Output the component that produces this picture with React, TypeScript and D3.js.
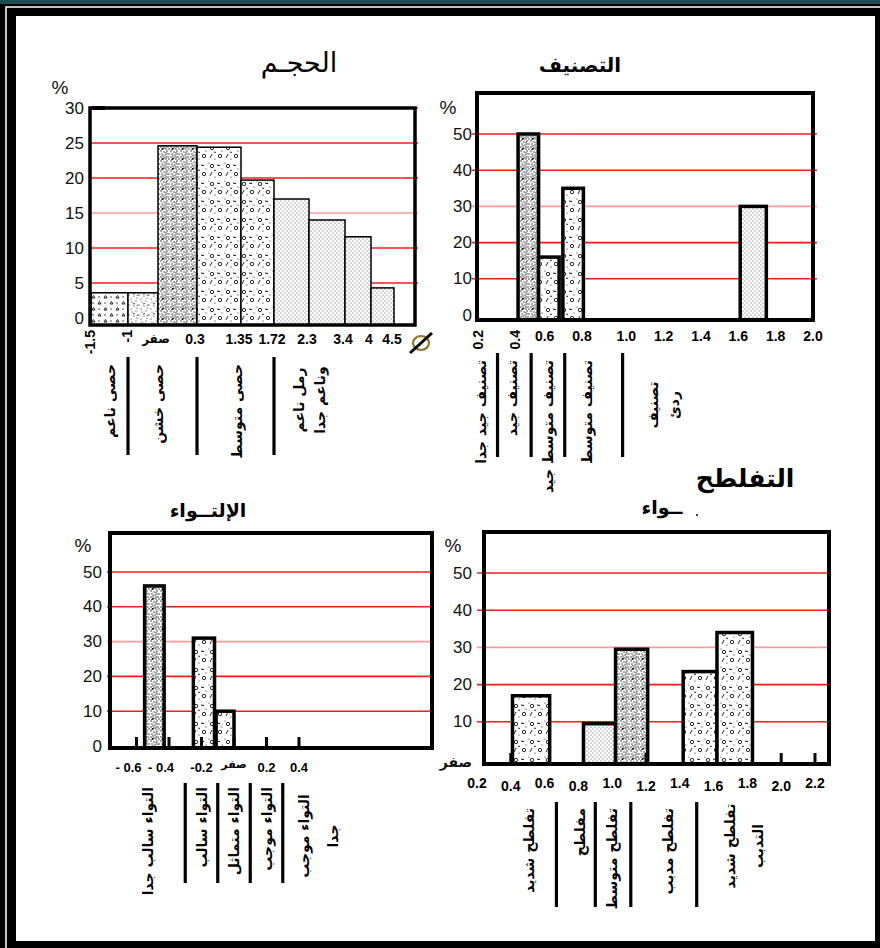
import React from 'react';
import * as d3 from 'd3';

// ---------- الحجم : grain size (phi) ----------
const sizeBreaks = [-1.5, -1, 0, 0.3, 1.35, 1.72, 2.3, 3.4, 4, 4.5];
const sizeTickLabels = ['-1.5', '-1', 'صفر', '0.3', '1.35', '1.72', '2.3', '3.4', '4', '4.5'];
const sizeValues = [3.6, 3.6, 24.6, 24.4, 19.7, 17, 14, 11.6, 4.3];
const sizeYTicks = [0, 5, 10, 15, 20, 25, 30];
const sizeClasses = [['حصى ناعم'], ['حصى خشن'], ['حصى متوسط'], ['رمل ناعم', 'وناعم جدا']];
const sizeClassBounds = [-1, 0.3, 1.72];
const sizeClassAt = [-1.25, 0, 1.25, 2.3];

// ---------- التصنيف : sorting ----------
const sortTicks = [0.2, 0.4, 0.6, 0.8, 1.0, 1.2, 1.4, 1.6, 1.8, 2.0];
const sortBars = [[0.42, 0.53], [0.53, 0.64], [0.66, 0.77], [1.61, 1.75]];
const sortValues = [50, 16, 35, 30];
const sortYTicks = [0, 10, 20, 30, 40, 50];
const sortClasses = [['تصنيف جيد جدا'], ['تصنيف جيد'], ['تصنيف متوسط جيد'], ['تصنيف متوسط'], ['تصنيف', 'ردئ']];
const sortClassBounds = [0.31, 0.49, 0.67, 0.98];
const sortClassAt = [0.22, 0.39, 0.58, 0.79, 1.2];

// ---------- الإلتواء : skewness ----------
const skewTicks = [-0.6, -0.4, -0.2, 0, 0.2, 0.4];
const skewTickLabels = ['- 0.6', '- 0.4', '-0.2', 'صفر', '0.2', '0.4'];
const skewBars = [[-0.55, -0.43], [-0.25, -0.12], [-0.11, 0]];
const skewValues = [46, 31, 10];
const skewYTicks = [0, 10, 20, 30, 40, 50];
const skewClasses = [['التواء سالب جدا'], ['التواء سالب'], ['التواء متماثل'], ['التواء موجب'], ['التواء موجب', 'جدا']];
const skewClassBounds = [-0.3, -0.1, 0.1, 0.3];
const skewClassAt = [-0.53, -0.2, 0, 0.2, 0.52];

// ---------- التفلطح : kurtosis ----------
const kurtTicks = [0.2, 0.4, 0.6, 0.8, 1.0, 1.2, 1.4, 1.6, 1.8, 2.0, 2.2];
const kurtBars = [[0.41, 0.63], [0.83, 1.02], [1.02, 1.21], [1.42, 1.62], [1.62, 1.83]];
const kurtValues = [17, 9.5, 29.5, 23.5, 34];
const kurtYTicks = [0, 10, 20, 30, 40, 50];
const kurtYTickLabels = ['صفر', '10', '20', '30', '40', '50'];
const kurtStubs = [0.4, 1.2, 2.0, 2.2];
const kurtClasses = [['تفلطح شديد'], ['مفلطح'], ['تفلطح متوسط'], ['تفلطح مدبب'], ['تفلطح شديد', 'التدبب']];
const kurtClassBounds = [0.67, 0.9, 1.11, 1.5];
const kurtClassAt = [0.51, 0.81, 1.0, 1.33, 1.78];

// bar textures
const sizeFills = ['tri', 'mix', 'dense', 'circ', 'circ', 'fine', 'fine', 'fine', 'fine'];
const sortFills = ['dense', 'circ', 'circ', 'fine'];
const skewFills = ['dense', 'circ', 'circ'];
const kurtFills = ['circ', 'fine', 'dense', 'circ', 'circ'];

const AR = '"DejaVu Sans", sans-serif';
const NUM = '"Liberation Sans", Arial, sans-serif';
const RED = '#ff1a1a';
const PINK = '#ff9a9a';

function Patterns() {
  const denseDots = [[1, 1], [4, 2], [7, 1], [9, 4], [2, 4], [5, 5], [8, 7], [1, 7], [4, 8], [6, 9], [3, 6], [7, 4], [9, 9], [6, 7], [2, 9.5]];
  const mixDots = [[2, 2], [6, 1], [9, 5], [4, 6], [1, 9], [7, 8]];
  return (
    <defs>
      <pattern id="p-dense" width="10" height="10" patternUnits="userSpaceOnUse">
        <rect width="10" height="10" fill="#fff" />
        {denseDots.map(([a, b], i) => <circle key={i} cx={a} cy={b} r={0.7} fill="#111" />)}
        <line x1="5" y1="3" x2="7" y2="2" stroke="#333" strokeWidth="0.7" />
        <rect x="2" y="8" width="1.6" height="1.6" fill="#000" />
      </pattern>
      <pattern id="p-circ" width="16" height="18" patternUnits="userSpaceOnUse">
        <rect width="16" height="18" fill="#fff" />
        <circle cx="4" cy="4" r="1.7" fill="none" stroke="#111" strokeWidth="0.9" />
        <circle cx="12" cy="12" r="1.7" fill="none" stroke="#111" strokeWidth="0.9" />
        <line x1="9" y1="3" x2="12" y2="3.6" stroke="#111" strokeWidth="1" />
        <line x1="2" y1="14" x2="4" y2="10" stroke="#111" strokeWidth="0.9" />
        <line x1="6" y1="8" x2="8" y2="8.5" stroke="#111" strokeWidth="0.9" />
        <circle cx="14" cy="7" r="0.6" fill="#111" />
        <circle cx="7" cy="15" r="0.6" fill="#111" />
        <circle cx="1" cy="1" r="0.6" fill="#111" />
      </pattern>
      <pattern id="p-fine" width="4" height="4" patternUnits="userSpaceOnUse">
        <rect width="4" height="4" fill="#fff" />
        <circle cx="1" cy="1" r="0.55" fill="#444" />
        <circle cx="3" cy="3" r="0.55" fill="#444" />
      </pattern>
      <pattern id="p-tri" width="12" height="12" patternUnits="userSpaceOnUse">
        <rect width="12" height="12" fill="#fff" />
        <polygon points="2,4 5,4 3.5,1.5" fill="none" stroke="#111" strokeWidth="0.9" />
        <polygon points="8,10 11,10 9.5,7.5" fill="none" stroke="#111" strokeWidth="0.9" />
        <circle cx="9" cy="3" r="0.7" fill="#111" />
        <circle cx="3" cy="9" r="0.7" fill="#111" />
      </pattern>
      <pattern id="p-mix" width="10" height="10" patternUnits="userSpaceOnUse">
        <rect width="10" height="10" fill="#fff" />
        {mixDots.map(([a, b], i) => <circle key={i} cx={a} cy={b} r={0.6} fill="#111" />)}
        <line x1="3" y1="4" x2="5" y2="3.5" stroke="#111" strokeWidth="0.8" />
        <line x1="7" y1="6" x2="8" y2="4.5" stroke="#111" strokeWidth="0.8" />
      </pattern>
    </defs>
  );
}

type Cfg = {
  x: (v: number) => number;
  y: d3.ScaleLinear<number, number>;
  box: [number, number, number, number];
  gridFrom: number;
  gridTo: number;
  yTicks: number[];
  yLabels?: string[];
  lightTick: number;
  yLabelX: number;
  pct: [number, number];
  bars: number[][];
  values: number[];
  fills: string[];
  barStroke: number;
  frameStroke: number;
  classes: string[][];
  classAt: number[];
  bounds: number[];
  sepTop: number;
  sepBottom: number;
  labelTop: number;
  multiCenter: number;
  lineGap: number;
};

function Panel({ c }: { c: Cfg }) {
  const [l, t, r, b] = c.box;
  const isWord = (s?: string) => s !== undefined && isNaN(+s);
  return (
    <g>
      {c.yTicks.map((v, i) => {
        const lab = c.yLabels ? c.yLabels[i] : String(v);
        const word = isWord(lab);
        return (
          <g key={'g' + v}>
            {v > 0 && (
              <line x1={c.gridFrom} x2={c.gridTo} y1={c.y(v)} y2={c.y(v)}
                stroke={v === c.lightTick ? PINK : RED} strokeWidth={1.6} />
            )}
            <text x={c.yLabelX} y={c.y(v) + (word ? 3 : 0)} textAnchor="end" dominantBaseline="central"
              fontFamily={word ? AR : NUM} fontSize={word ? 14 : 17}
              fontWeight={word ? 'bold' : 'normal'} fill="#111">{lab}</text>
          </g>
        );
      })}
      <text x={c.pct[0]} y={c.pct[1]} textAnchor="middle" dominantBaseline="central"
        fontFamily={NUM} fontSize={19} fill="#111">%</text>
      {c.bars.map(([a, bb], i) => (
        <rect key={'b' + i} x={c.x(a)} y={c.y(c.values[i])} width={c.x(bb) - c.x(a)}
          height={b - c.y(c.values[i])} fill={`url(#p-${c.fills[i]})`}
          stroke="#000" strokeWidth={c.barStroke} />
      ))}
      <rect x={l} y={t} width={r - l} height={b - t} fill="none" stroke="#000" strokeWidth={c.frameStroke} />
      {c.bounds.map((v, i) => (
        <line key={'s' + i} x1={c.x(v)} x2={c.x(v)} y1={c.sepTop} y2={c.sepBottom}
          stroke="#000" strokeWidth={3.2} />
      ))}
      {c.classes.map((lines, i) => (
        <g key={'c' + i}>
          {lines.map((s, j) => {
            const multi = lines.length > 1;
            const cx = c.x(c.classAt[i]) + (j - (lines.length - 1) / 2) * c.lineGap;
            const cy = multi ? c.multiCenter : c.labelTop;
            return (
              <text key={j} transform={`translate(${cx},${cy}) rotate(-90)`}
                textAnchor={multi ? 'middle' : 'end'} dominantBaseline="central" fontFamily={AR}
                fontWeight="bold" fontSize={14} fill="#000">{s}</text>
            );
          })}
        </g>
      ))}
    </g>
  );
}

export default function App() {
  // grain size: uneven phi axis, piecewise linear between class limits
  const xSize = d3.scaleLinear().domain(sizeBreaks)
    .range([91, 128, 158, 197, 241, 274, 309, 345, 371, 394]);
  const ySize = d3.scaleLinear().domain([0, 30]).range([318, 108]);
  const sizeBarSpans = sizeValues.map((_, i) => [sizeBreaks[i], sizeBreaks[i + 1]]);

  const xSort = d3.scaleLinear().domain([0.2, 2.0]).range([477, 813]);
  const ySort = d3.scaleLinear().domain([0, 50]).range([315, 134]);

  const xSkew = d3.scaleLinear().domain([-0.6, 0.4]).range([136.5, 299]);
  const ySkew = d3.scaleLinear().domain([0, 50]).range([746, 572]);

  const xKurt = d3.scaleLinear().domain([0.2, 2.2]).range([477, 815]);
  const yKurt = d3.scaleLinear().domain([0, 50]).range([759, 573]);

  const size: Cfg = {
    x: xSize, y: ySize, box: [90, 108, 415, 325], gridFrom: 90, gridTo: 418,
    yTicks: sizeYTicks, lightTick: 15, yLabelX: 84, pct: [60, 87],
    bars: sizeBarSpans, values: sizeValues, fills: sizeFills, barStroke: 1.5, frameStroke: 3.5,
    classes: sizeClasses, classAt: sizeClassAt, bounds: sizeClassBounds,
    sepTop: 357, sepBottom: 455, labelTop: 364, multiCenter: 400, lineGap: 21,
  };
  const sort: Cfg = {
    x: xSort, y: ySort, box: [477, 93, 813, 320], gridFrom: 472, gridTo: 817,
    yTicks: sortYTicks, lightTick: 30, yLabelX: 472, pct: [448, 107],
    bars: sortBars, values: sortValues, fills: sortFills, barStroke: 3.5, frameStroke: 4,
    classes: sortClasses, classAt: sortClassAt, bounds: sortClassBounds,
    sepTop: 353, sepBottom: 457, labelTop: 360, multiCenter: 405, lineGap: 21,
  };
  const skew: Cfg = {
    x: xSkew, y: ySkew, box: [110, 533, 432, 748], gridFrom: 107, gridTo: 432,
    yTicks: skewYTicks, lightTick: 30, yLabelX: 102, pct: [83, 545],
    bars: skewBars, values: skewValues, fills: skewFills, barStroke: 3.5, frameStroke: 4,
    classes: skewClasses, classAt: skewClassAt, bounds: skewClassBounds,
    sepTop: 783, sepBottom: 883, labelTop: 787, multiCenter: 836, lineGap: 29,
  };
  const kurt: Cfg = {
    x: xKurt, y: yKurt, box: [484, 532, 829, 764], gridFrom: 477, gridTo: 829,
    yTicks: kurtYTicks, yLabels: kurtYTickLabels, lightTick: 30, yLabelX: 472, pct: [453, 545],
    bars: kurtBars, values: kurtValues, fills: kurtFills, barStroke: 3.5, frameStroke: 4,
    classes: kurtClasses, classAt: kurtClassAt, bounds: kurtClassBounds,
    sepTop: 802, sepBottom: 907, labelTop: 808, multiCenter: 846, lineGap: 28,
  };

  return (
    <svg width={880} height={948} viewBox="0 0 880 948"
      style={{ position: 'absolute', left: 0, top: 0, display: 'block' }}>
      <Patterns />
      {/* page frame */}
      <rect x={0} y={0} width={880} height={948} fill="#000" />
      <rect x={0} y={0} width={880} height={4} fill="#1d4f56" />
      <polyline points="6,948 6,7 880,7" fill="none" stroke="#fff" strokeWidth={1.5} />
      <rect x={16} y={16} width={859} height={925} fill="#fff" />

      {/* titles */}
      <text x={299} y={62} textAnchor="middle" dominantBaseline="central" fontFamily={AR}
        fontSize={27} fill="#000">الحجـم</text>
      <text x={580} y={65} textAnchor="middle" dominantBaseline="central" fontFamily={AR}
        fontSize={20} fontWeight="bold" fill="#000">التصنيف</text>
      <text x={208} y={510} textAnchor="middle" dominantBaseline="central" fontFamily={AR}
        fontSize={19} fontWeight="bold" fill="#000">الإلتــواء</text>
      <text x={662} y={507} textAnchor="middle" dominantBaseline="central" fontFamily={AR}
        fontSize={19} fontWeight="bold" fill="#000">ــواء</text>
      <circle cx={697} cy={515} r={1} fill="#000" />
      <text x={745} y={478} textAnchor="middle" dominantBaseline="central" fontFamily={AR}
        fontSize={25} fontWeight="bold" fill="#000">التفلطح</text>

      <Panel c={size} />
      <Panel c={sort} />
      <Panel c={skew} />
      <Panel c={kurt} />

      {/* grain size axis labels */}
      <rect x={92} y={106} width={13} height={4} fill="#000" />
      {sizeBreaks.map((v, i) => {
        const lab = sizeTickLabels[i];
        if (lab.startsWith('-')) {
          return (
            <text key={'sx' + i} transform={`translate(${xSize(v) - 1},${330}) rotate(-90)`}
              textAnchor="end" dominantBaseline="central" fontFamily={NUM} fontWeight="bold"
              fontSize={14} fill="#000">{lab}</text>
          );
        }
        return (
          <text key={'sx' + i} x={xSize(v) - 2} y={339} textAnchor="middle" dominantBaseline="central"
            fontFamily={isNaN(+lab) ? AR : NUM} fontWeight="bold" fontSize={isNaN(+lab) ? 12 : 14}
            fill="#000">{lab}</text>
        );
      })}
      {/* phi symbol */}
      <ellipse cx={421} cy={343} rx={8} ry={7} fill="none" stroke="#8a7a22" strokeWidth={2.2} />
      <line x1={410} y1={353} x2={432} y2={333} stroke="#000" strokeWidth={3} />

      {/* sorting axis labels */}
      {sortTicks.map((v, i) => {
        const lab = v.toFixed(1);
        if (i < 2) {
          return (
            <text key={'tx' + i} transform={`translate(${xSort(v) + 1},${330}) rotate(-90)`}
              textAnchor="end" dominantBaseline="central" fontFamily={NUM} fontWeight="bold"
              fontSize={14} fill="#000">{lab}</text>
          );
        }
        return (
          <text key={'tx' + i} x={xSort(v) - (i < 4 ? 7 : 0)} y={336} textAnchor="middle" dominantBaseline="central"
            fontFamily={NUM} fontWeight="bold" fontSize={14} fill="#000">{lab}</text>
        );
      })}

      {/* skewness axis */}
      {skewTicks.map((v, i) => {
        const lab = skewTickLabels[i];
        const word = isNaN(+lab.replace(' ', ''));
        return (
          <g key={'kx' + i}>
            <line x1={xSkew(v)} x2={xSkew(v)} y1={737} y2={748} stroke="#000" strokeWidth={3} />
            <text x={xSkew(v) - (lab.startsWith('- ') ? 8 : 0)} y={word ? 764 : 767} textAnchor="middle"
              dominantBaseline="central" fontFamily={word ? AR : NUM}
              fontWeight="bold" fontSize={word ? 11 : 13} fill="#000">{lab}</text>
          </g>
        );
      })}

      {/* kurtosis axis */}
      {kurtStubs.map((v, i) => (
        <line key={'ks' + i} x1={xKurt(v)} x2={xKurt(v)} y1={753} y2={764} stroke="#000" strokeWidth={3} />
      ))}
      {kurtTicks.map((v, i) => (
        <text key={'kt' + i} x={xKurt(v)} y={i % 2 ? 786 : 783} textAnchor="middle" dominantBaseline="central"
          fontFamily={NUM} fontWeight="bold" fontSize={14} fill="#000">{v.toFixed(1)}</text>
      ))}
    </svg>
  );
}
